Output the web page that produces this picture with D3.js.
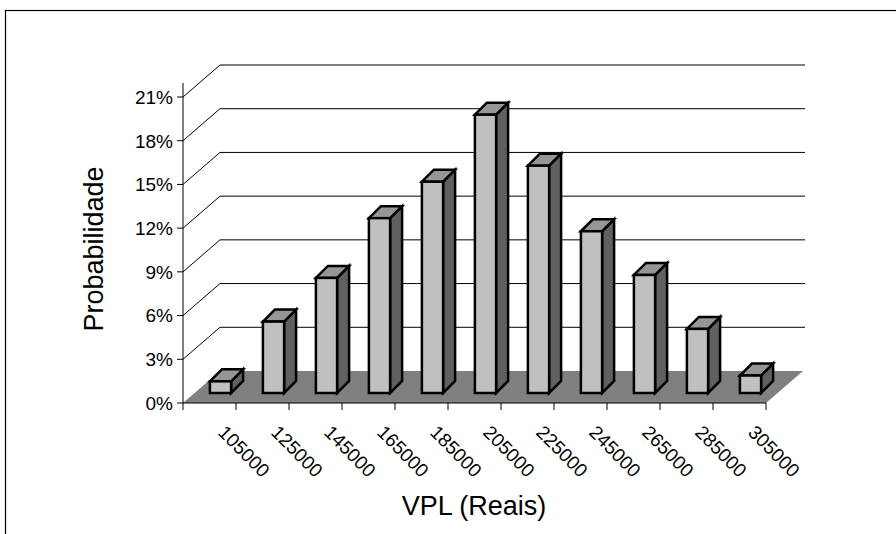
<!DOCTYPE html>
<html>
<head>
<meta charset="utf-8">
<script src="https://cdn.jsdelivr.net/npm/d3@7"></script>
<style>
  body { margin: 0; background: #fff; }
  svg { display: block; }
  text { font-family: Arial, "Liberation Sans", sans-serif; fill: #000; }
</style>
</head>
<body>
<svg id="chart" width="896" height="534"></svg>
<script>
// Net present value classes (Reais) and their probabilities
const categories = ["105000", "125000", "145000", "165000", "185000", "205000",
                    "225000", "245000", "265000", "285000", "305000"];
const probabilities = [0.008, 0.049, 0.079, 0.120, 0.145, 0.191, 0.156, 0.111, 0.081, 0.044, 0.012];
const valueTicks = [0, 0.03, 0.06, 0.09, 0.12, 0.15, 0.18, 0.21];
const yTitle = "Probabilidade";
const xTitle = "VPL (Reais)";

const svg = d3.select("#chart");

// Front plane of the 3-D box
const plotLeft = 183, plotRight = 766, plotBase = 403, plotTop = 97;
// Offset of the back wall relative to the front plane
const wallDx = 37, wallDy = -32;
// Bars sit slightly behind the front edge and have their own depth
const barDx = 11, barDy = -10;
const depthDx = 12, depthDy = -12;

const x = d3.scaleBand().domain(categories).range([plotLeft, plotRight])
  .paddingInner(0.6).paddingOuter(0.3);
const y = d3.scaleLinear().domain([0, 0.21]).range([plotBase, plotTop]);

// Outer chart-area border
svg.append("rect")
  .attr("x", 5.5).attr("y", 10.5).attr("width", 1000).attr("height", 1000)
  .attr("fill", "none").attr("stroke", "#000").attr("stroke-width", 1.2);

// Gridlines: diagonal on the side wall, horizontal on the back wall
const grid = svg.append("g").attr("stroke", "#000").attr("stroke-width", 1).attr("fill", "none");
valueTicks.filter(v => v > 0).forEach(v => {
  const yy = y(v);
  grid.append("path")
    .attr("d", d3.line()([[plotLeft, yy], [plotLeft + wallDx, yy + wallDy], [plotRight + wallDx + 2, yy + wallDy]]));
});

// Floor
svg.append("path")
  .attr("d", d3.line()([[plotLeft, plotBase], [plotRight, plotBase], [plotRight + wallDx, plotBase + wallDy], [plotLeft + wallDx, plotBase + wallDy]]) + "Z")
  .attr("fill", "#808080");

// Value axis
const yAxis = svg.append("g");
yAxis.append("line")
  .attr("x1", plotLeft).attr("x2", plotLeft).attr("y1", plotBase).attr("y2", plotTop - 14)
  .attr("stroke", "#000").attr("stroke-width", 1);
yAxis.selectAll("line.tick").data(valueTicks).join("line")
  .attr("class", "tick")
  .attr("x1", plotLeft - 6).attr("x2", plotLeft)
  .attr("y1", d => y(d)).attr("y2", d => y(d))
  .attr("stroke", "#000").attr("stroke-width", 1);
yAxis.selectAll("text").data(valueTicks).join("text")
  .attr("x", plotLeft - 10).attr("y", d => y(d))
  .attr("dy", "0.36em")
  .attr("text-anchor", "end")
  .attr("font-size", 19)
  .text(d => d3.format(".0%")(d));

// Category axis
const step = x.step();
const xAxis = svg.append("g");
xAxis.append("line")
  .attr("x1", plotLeft).attr("x2", plotRight).attr("y1", plotBase).attr("y2", plotBase)
  .attr("stroke", "#000").attr("stroke-width", 1);
xAxis.selectAll("line.tick").data(d3.range(categories.length + 1)).join("line")
  .attr("class", "tick")
  .attr("x1", i => plotLeft + i * step).attr("x2", i => plotLeft + i * step)
  .attr("y1", plotBase).attr("y2", plotBase + 7)
  .attr("stroke", "#000").attr("stroke-width", 1);
xAxis.selectAll("text").data(categories).join("text")
  .attr("transform", d => `translate(${x(d) + x.bandwidth() / 2 + 17},${plotBase + 21}) rotate(45)`)
  .attr("dy", "0.71em")
  .attr("font-size", 19)
  .text(d => d);

// 3-D bars
const bw = x.bandwidth();
const bars = svg.append("g").attr("stroke", "#000").attr("stroke-width", 2.5).attr("stroke-linejoin", "miter");
categories.forEach((c, i) => {
  const bx = x(c) + barDx;
  const b0 = y(0) + barDy;
  const bt = y(probabilities[i]) + barDy;
  const g = bars.append("g");
  g.append("path")
    .attr("d", d3.line()([[bx + bw, bt], [bx + bw + depthDx, bt + depthDy], [bx + bw + depthDx, b0 + depthDy], [bx + bw, b0]]) + "Z")
    .attr("fill", "#606060");
  g.append("path")
    .attr("d", d3.line()([[bx, bt], [bx + depthDx, bt + depthDy], [bx + bw + depthDx, bt + depthDy], [bx + bw, bt]]) + "Z")
    .attr("fill", "#969696");
  g.append("rect")
    .attr("x", bx).attr("y", bt).attr("width", bw).attr("height", b0 - bt)
    .attr("fill", "#c0c0c0");
});

// Axis titles
svg.append("text")
  .attr("x", 474).attr("y", 515)
  .attr("text-anchor", "middle")
  .attr("font-size", 27)
  .text(xTitle);
svg.append("text")
  .attr("transform", "translate(103,249) rotate(-90)")
  .attr("text-anchor", "middle")
  .attr("font-size", 27)
  .text(yTitle);
</script>
</body>
</html>
